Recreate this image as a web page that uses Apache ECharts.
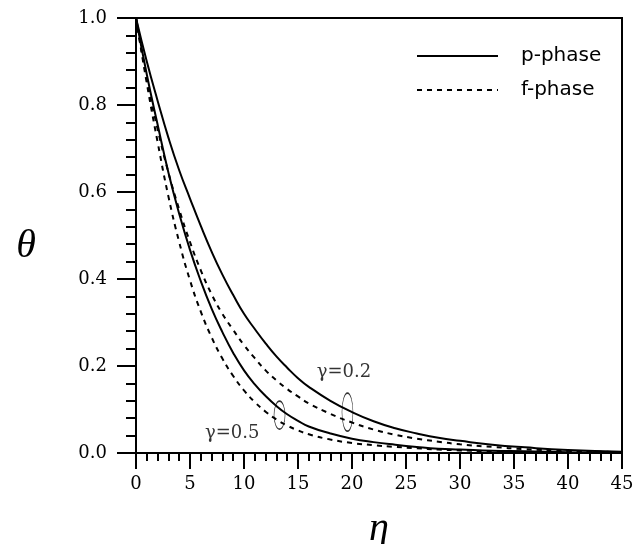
<!DOCTYPE html>
<html>
<head>
<meta charset="utf-8">
<script src="https://cdn.jsdelivr.net/npm/echarts@6/dist/echarts.min.js"></script>
<style>html,body{margin:0;padding:0;background:#fff}#c{width:635px;height:544px}</style>
</head>
<body>
<div id="c"></div>
<script>
// eta sample points
const eta = [0,1,2,3,4,5,6,7,8,9,10,11,12,13,14,15,16,18,20,22,24,26,28,30,33,36,40,45];
// gamma = 0.2, p-phase (solid)
const theta_p02 = [1.0,0.90,0.81,0.725,0.65,0.585,0.522,0.463,0.41,0.363,0.32,0.285,0.252,0.222,0.196,0.172,0.152,0.12,0.094,0.073,0.057,0.045,0.035,0.028,0.019,0.013,0.007,0.003];
// gamma = 0.2, f-phase (dashed)
const theta_f02 = [1.0,0.86,0.745,0.645,0.56,0.485,0.42,0.365,0.32,0.283,0.248,0.218,0.19,0.167,0.147,0.13,0.114,0.09,0.07,0.054,0.042,0.033,0.026,0.02,0.014,0.009,0.005,0.002];
// gamma = 0.5, p-phase (solid)
const theta_p05 = [1.0,0.87,0.755,0.645,0.55,0.467,0.395,0.332,0.278,0.23,0.19,0.158,0.131,0.108,0.089,0.074,0.061,0.045,0.033,0.025,0.019,0.014,0.01,0.008,0.005,0.004,0.002,0.001];
// gamma = 0.5, f-phase (dashed)
const theta_f05 = [1.0,0.85,0.715,0.59,0.485,0.397,0.325,0.266,0.217,0.177,0.144,0.117,0.095,0.077,0.063,0.052,0.043,0.031,0.023,0.018,0.014,0.011,0.008,0.006,0.004,0.003,0.002,0.001];
// annotations [eta, theta, text]
const labels = [[19.26,0.186,'γ=0.2'],[8.9,0.046,'γ=0.5']];
// ellipses [eta, theta]
const ellipse02 = [19.58,0.094];
const ellipse05 = [13.29,0.087];

const pair = (ys) => eta.map((x,i)=>[x,ys[i]]);
const serif = 'DejaVu Serif';
const chart = echarts.init(document.getElementById('c'));
const lineSeries = (name, ys, dashed) => ({
  name, type:'line', data: pair(ys), smooth:true, symbol:'none', showSymbol:false,
  lineStyle:{color:'#000', width:2, type: dashed ? [5,5] : 'solid'},
  itemStyle:{color:'#000'}, z:3
});
chart.setOption({
  animation:false,
  backgroundColor:'#fff',
  grid:{left:136, right:13, top:18, bottom:91, show:true, borderColor:'#000', borderWidth:2,
        backgroundColor:'transparent', containLabel:false, outerBoundsMode:'none'},
  legend:{
    data:['p-phase','f-phase'], orient:'vertical', left:411, top:41,
    itemWidth:81, itemHeight:14, itemGap:14,
    itemStyle:{opacity:0},
    textStyle:{fontFamily:'DejaVu Sans', fontSize:20, color:'#000', padding:[0,0,0,18]}
  },
  xAxis:{
    type:'value', min:0, max:45, interval:5,
    name:'η', nameLocation:'middle', nameGap:56,
    nameTextStyle:{fontFamily:'Liberation Serif', fontStyle:'italic', fontSize:40, color:'#000'},
    axisLine:{show:true, lineStyle:{color:'#000', width:2}},
    axisTick:{show:true, length:16, lineStyle:{color:'#000', width:2}},
    minorTick:{show:true, splitNumber:5, length:8, lineStyle:{color:'#000', width:2}},
    axisLabel:{fontFamily:serif, fontSize:18, color:'#000', margin:22},
    splitLine:{show:false}
  },
  yAxis:{
    type:'value', min:0, max:1, interval:0.2,
    name:'θ', nameLocation:'middle', nameGap:100, nameRotate:0,
    nameTextStyle:{fontFamily:'Liberation Serif', fontStyle:'italic', fontSize:40, color:'#000',
                   verticalAlign:'top', lineHeight:21},
    axisLine:{show:true, lineStyle:{color:'#000', width:2}},
    axisTick:{show:true, length:19, lineStyle:{color:'#000', width:2}},
    minorTick:{show:true, splitNumber:5, length:10, lineStyle:{color:'#000', width:2}},
    axisLabel:{fontFamily:serif, fontSize:18, color:'#000', margin:29, formatter:(v)=>v.toFixed(1)},
    splitLine:{show:false}
  },
  series:[
    lineSeries('p-phase', theta_p02, false),
    lineSeries('f-phase', theta_f02, true),
    lineSeries('p-phase', theta_p05, false),
    lineSeries('f-phase', theta_f05, true),
    {type:'scatter', data:[ellipse02], symbol:'circle', symbolSize:[11,38],
     itemStyle:{color:'rgba(0,0,0,0)', borderColor:'#000', borderWidth:1}, z:4, silent:true},
    {type:'scatter', data:[ellipse05], symbol:'circle', symbolSize:[11,28],
     itemStyle:{color:'rgba(0,0,0,0)', borderColor:'#000', borderWidth:1}, z:4, silent:true},
    {type:'scatter', data:labels.map(l=>[l[0],l[1],l[2]]), symbolSize:0, silent:true,
     label:{show:true, position:'inside', formatter:(p)=>p.data[2], fontFamily:serif, fontSize:18, color:'#000'}}
  ]
});
</script>
</body>
</html>
